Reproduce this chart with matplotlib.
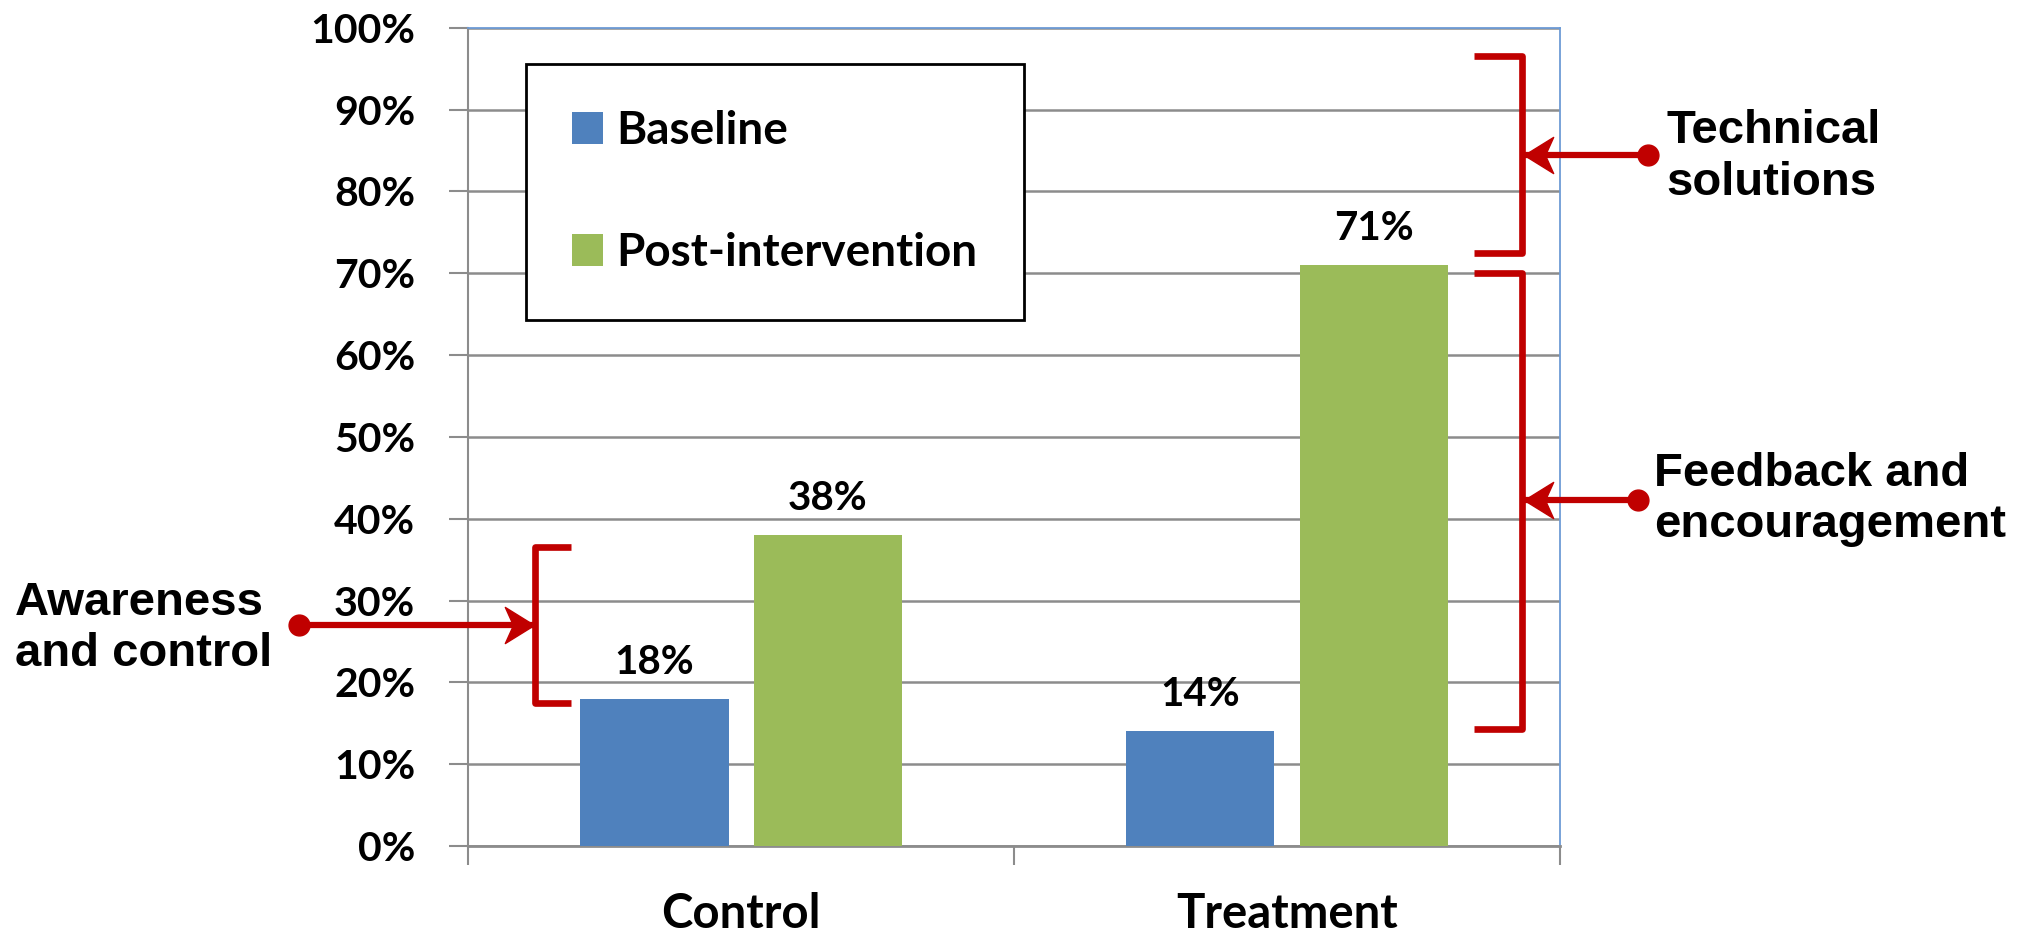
import numpy as np
import matplotlib.pyplot as plt
from matplotlib.path import Path

# data
groups = ['Control', 'Treatment']
series = ['Baseline', 'Post-intervention']
baseline = [18, 14]
post = [38, 71]
colors = ['#4F81BD', '#9BBB59']
red = '#C00000'

chart_font = 'Lato'
note_font = 'Liberation Sans'

fig = plt.figure(figsize=(20.22, 9.34), dpi=100)
ax = fig.add_axes([0.2315, 0.0942, 0.540, 0.876])

x = np.arange(len(groups))
w = 0.272
off = 0.159
for vals, dx, c, name in [(baseline, -off, colors[0], series[0]), (post, off, colors[1], series[1])]:
    ax.bar(x + dx, vals, width=w, color=c, label=name, zorder=3)
    for xi, v in zip(x + dx, vals):
        ax.text(xi, v + 2.2, f'{v}%', ha='center', va='bottom', fontsize=29,
                fontweight='bold', family=chart_font)

ax.set_xlim(-0.5, 1.5)
ax.set_ylim(0, 100)
ax.set_yticks(np.arange(0, 101, 10))
ax.set_yticklabels([f'{v}%' for v in range(0, 101, 10)])
ax.set_xticks(x)
ax.set_xticklabels(groups)
ax.set_xticks([-0.5, 0.5, 1.5], minor=True)
ax.tick_params(axis='x', which='major', length=0, pad=33)
ax.tick_params(axis='x', which='minor', length=14, width=1.5, color='#8c8c8c', direction='out')
ax.tick_params(axis='y', length=14, width=1.5, color='#8c8c8c', pad=24)
for lab in ax.get_xticklabels() + ax.get_yticklabels():
    lab.set_fontfamily(chart_font)
    lab.set_fontweight('bold')
for lab in ax.get_xticklabels():
    lab.set_fontsize(34)
for lab in ax.get_yticklabels():
    lab.set_fontsize(29.5)

ax.yaxis.grid(True, color='#8c8c8c', lw=1.8)
ax.set_axisbelow(True)
ax.spines['left'].set_color('#8c8c8c')
ax.spines['left'].set_linewidth(1.5)
ax.spines['bottom'].set_color('#8c8c8c')
ax.spines['bottom'].set_linewidth(2)
for s in ['top', 'right']:
    ax.spines[s].set_color('#6d9bd6')
    ax.spines[s].set_linewidth(1.3)

leg = ax.legend(loc='upper left', bbox_to_anchor=(0.053, 0.956), borderaxespad=0,
                fancybox=False, edgecolor='black', framealpha=1,
                handlelength=0.68, handleheight=0.7, handletextpad=0.3,
                labelspacing=1.75, borderpad=1.0,
                prop={'family': chart_font, 'weight': 'bold', 'size': 33})
leg.get_frame().set_linewidth(2)

# stealth-style arrow heads
head_r = Path([(0, 0), (-1, 0.62), (-0.72, 0), (-1, -0.62), (0, 0)],
              [Path.MOVETO, Path.LINETO, Path.LINETO, Path.LINETO, Path.CLOSEPOLY])
head_l = Path([(0, 0), (1, 0.62), (0.72, 0), (1, -0.62), (0, 0)],
              [Path.MOVETO, Path.LINETO, Path.LINETO, Path.LINETO, Path.CLOSEPOLY])


def bracket(xv, y0, y1, xs):
    ax.plot([xs, xv, xv, xs], [y1, y1, y0, y0], color=red, lw=4.8,
            solid_joinstyle='round', solid_capstyle='butt', clip_on=False, zorder=4)


def pointer(x_dot, x_tip, y, head):
    ax.plot([x_dot, x_tip], [y, y], color=red, lw=4.5, clip_on=False, zorder=4)
    ax.plot(x_dot, y, 'o', ms=15, color=red, clip_on=False, zorder=5)
    ax.plot(x_tip, y, marker=head, ms=42, color=red, mec=red, clip_on=False, zorder=5)


bracket(-0.377, 17.5, 36.5, -0.311)
pointer(-0.81, -0.38, 27, head_r)
bracket(1.430, 72.5, 96.5, 1.342)
pointer(1.661, 1.434, 84.5, head_l)
bracket(1.430, 14.3, 70, 1.342)
pointer(1.643, 1.434, 42.3, head_l)

note = dict(family=note_font, fontweight='bold', fontsize=34, va='center', ha='left',
            linespacing=1.22)
fig.text(0.0074, 0.327, 'Awareness\nand control', **note)
fig.text(0.824, 0.832, 'Technical\nsolutions', **note)
fig.text(0.818, 0.465, 'Feedback and\nencouragement', **note)

fig.savefig('out.png', dpi=100)
